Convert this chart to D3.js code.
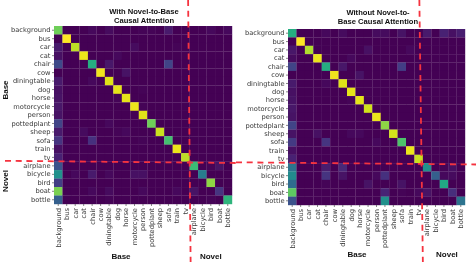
<!DOCTYPE html>
<html>
<head>
<meta charset="utf-8">
<script src="https://cdn.jsdelivr.net/npm/d3@7"></script>
<style>
    html, body { margin: 0; padding: 0; background: #fff; overflow: hidden; }
    svg { display: block; filter: blur(0.35px); }
    .tick text { font-family: "DejaVu Sans", sans-serif; font-size: 6.7px; fill: #3a3a3a; }
    .tick line { stroke: #333; stroke-width: 0.6; }
    .domain { display: none; }
    .head { font-family: "Liberation Sans", Arial, sans-serif; font-weight: bold; font-size: 7.6px; fill: #111; text-anchor: middle; }
    .side { font-family: "Liberation Sans", Arial, sans-serif; font-weight: bold; font-size: 8px; fill: #111; text-anchor: middle; }
    .divider { stroke: #f5333f; stroke-width: 1.8; stroke-dasharray: 6 4.7; }
</style>
</head>
<body>
<div id="chart"></div>
<script>
var classes = ["background", "bus", "car", "cat", "chair", "cow", "diningtable", "dog", "horse",
    "motorcycle", "person", "pottedplant", "sheep", "sofa", "train", "tv",
    "airplane", "bicycle", "bird", "boat", "bottle"];

// percent of the colour range
var withRows = [
    [78,0,0,0,2,0,3,0,0,0,1,1,0,7,0,0,0,0,2,0,2],
    [0,100,0,0,0,0,0,0,0,0,0,0,0,0,0,0,0,0,0,0,0],
    [7,0,90,0,0,0,0,0,0,3,0,0,0,0,1,0,0,0,0,0,0],
    [4,0,0,97,0,0,0,2,0,0,0,0,0,0,0,0,0,0,0,0,0],
    [22,0,0,0,62,0,6,0,0,0,0,0,0,20,0,0,0,0,0,0,0],
    [0,0,0,0,0,98,0,0,5,0,0,0,0,0,0,0,0,0,0,0,0],
    [7,0,0,0,2,0,95,0,0,0,0,0,0,0,0,0,0,0,0,0,0],
    [4,0,0,0,0,0,0,96,0,0,1,0,0,0,0,0,0,0,0,0,0],
    [5,0,0,0,0,0,0,1,96,0,0,0,0,0,0,0,0,0,0,0,0],
    [6,0,0,0,0,0,0,0,0,97,1,0,0,0,0,0,0,0,0,0,0],
    [5,0,0,0,0,0,0,0,0,0,95,0,0,0,0,0,0,0,0,0,0],
    [20,0,0,0,0,0,2,0,0,0,0,78,0,0,0,0,0,0,0,0,0],
    [7,0,0,3,0,0,0,1,2,0,0,0,92,0,0,0,0,0,0,0,0],
    [15,0,0,0,14,0,0,0,0,0,1,0,0,70,0,0,0,0,0,0,0],
    [4,0,0,0,0,0,0,0,0,0,0,0,0,0,97,0,0,0,0,0,0],
    [9,0,0,0,0,0,0,0,0,0,0,0,0,0,0,90,0,0,0,0,0],
    [25,0,0,0,0,0,0,0,0,0,0,0,0,0,0,0,68,0,1,5,0],
    [50,0,2,0,7,0,2,0,0,4,4,0,0,0,0,0,0,42,0,0,0],
    [18,0,0,0,0,0,0,0,0,0,0,0,0,0,0,0,0,0,83,0,0],
    [80,0,0,0,2,0,3,0,0,0,2,0,0,0,2,0,5,0,0,15,0],
    [30,0,0,0,0,0,1,0,0,0,0,0,0,0,0,0,0,0,1,0,65]
];

var withoutRows = [
    [62,0,0,0,2,0,3,0,0,0,3,3,0,5,0,0,7,0,9,4,8],
    [0,100,0,0,0,0,0,0,0,0,0,0,0,0,0,0,0,0,0,0,0],
    [6,0,88,0,0,0,0,0,0,4,0,0,0,0,2,0,0,0,0,0,0],
    [3,0,0,97,0,0,0,2,0,0,0,0,0,0,0,0,0,0,0,0,0],
    [20,0,0,0,62,0,6,0,0,0,0,0,0,18,0,0,0,0,0,0,0],
    [0,0,0,0,0,98,0,0,5,0,0,0,0,0,0,0,0,0,0,0,0],
    [7,0,0,0,2,0,95,0,0,0,0,0,0,0,0,0,0,0,0,0,0],
    [4,0,0,0,0,0,0,96,0,0,0,0,0,0,0,0,0,0,0,0,0],
    [5,0,0,0,0,0,0,1,96,0,0,0,0,0,0,0,0,0,0,0,0],
    [6,0,0,0,0,0,0,0,0,93,0,0,0,0,0,0,0,0,0,0,0],
    [5,0,0,0,0,0,0,0,0,0,97,0,0,0,0,0,0,0,0,0,0],
    [20,0,0,0,0,0,0,0,0,0,0,83,0,0,0,0,0,0,0,0,0],
    [5,0,0,4,0,0,0,2,2,0,0,0,93,0,0,0,0,0,0,0,0],
    [17,0,0,0,15,0,0,0,0,0,2,0,0,72,0,0,0,0,0,0,0],
    [4,0,0,0,0,0,0,0,0,0,0,0,0,0,97,0,0,0,0,0,0],
    [9,0,0,0,0,0,0,0,0,0,0,0,0,0,0,92,0,0,0,0,0],
    [38,0,0,0,8,0,11,0,0,0,0,0,0,0,0,0,50,0,1,4,0],
    [48,0,0,0,15,0,5,0,0,0,2,14,0,0,0,0,0,30,2,3,0],
    [35,0,0,0,1,0,0,0,0,5,0,0,0,5,0,0,0,0,60,0,0],
    [75,0,0,0,0,0,0,0,0,0,0,10,0,1,0,2,5,0,0,13,0],
    [25,0,0,0,0,0,0,0,0,0,0,50,0,0,0,0,0,0,0,0,38]
];

var withTitle = ["With Novel-to-Base", "Causal Attention"];
var withoutTitle = ["Without Novel-to-", "Base Causal Attention"];
var groupNames = ["Base", "Novel"];

var width = 476, height = 262;

var svg = d3.select("#chart").append("svg")
    .attr("width", width)
    .attr("height", height);

var colorScale = d3.scaleSequential(d3.interpolateViridis).domain([0, 100]);

function drawMatrix(rows, box, title) {
    var x = d3.scaleBand().domain(classes).range([box.left, box.right]);
    var y = d3.scaleBand().domain(classes).range([box.top, box.bottom]);

    var g = svg.append("g");

    rows.forEach(function(row, i) {
        g.selectAll("rect.r" + i)
            .data(row)
            .enter().append("rect")
            .attr("class", "r" + i)
            .attr("x", function(d, j) { return x(classes[j]); })
            .attr("y", y(classes[i]))
            .attr("width", x.bandwidth() + 0.2)
            .attr("height", y.bandwidth() + 0.2)
            .style("fill", function(d) { return colorScale(d); });
    });

    g.append("g")
        .attr("transform", "translate(0," + box.bottom + ")")
        .call(d3.axisBottom(x).tickSize(2).tickPadding(1.5))
        .selectAll("text")
        .attr("transform", "rotate(-90)")
        .attr("text-anchor", "end")
        .attr("x", -4)
        .attr("y", 0)
        .attr("dy", "0.35em");

    g.append("g")
        .attr("transform", "translate(" + box.left + ",0)")
        .call(d3.axisLeft(y).tickSize(2).tickPadding(1.5));

    g.selectAll(".head")
        .data(title)
        .enter().append("text")
        .attr("class", "head")
        .attr("x", box.titleX)
        .attr("y", function(d, i) { return box.titleY + i * 9.4; })
        .text(function(d) { return d; });

    // the dashed split between tv and airplane, slightly tilted as in the source figure
    var splitX = x("airplane"), splitY = y("airplane");
    g.append("line").attr("class", "divider")
        .attr("x1", splitX + box.tilt[0]).attr("y1", 0)
        .attr("x2", splitX + box.tilt[1]).attr("y2", height);
    g.append("line").attr("class", "divider")
        .attr("x1", box.hFrom).attr("y1", splitY - 0.8)
        .attr("x2", box.hTo).attr("y2", splitY + 1.4);

    svg.append("text").attr("class", "side")
        .attr("x", d3.mean(x.range()) - 22 + box.baseShift).attr("y", box.groupY)
        .text(groupNames[0]);
    svg.append("text").attr("class", "side")
        .attr("x", x("bird") + x.bandwidth() / 2 + box.novelShift).attr("y", box.groupY)
        .text(groupNames[1]);
}

drawMatrix(withRows, {
    left: 54, right: 232, top: 26, bottom: 204,
    titleX: 144, titleY: 13.5, groupY: 258.5,
    baseShift: 0, novelShift: 0, tilt: [-1.5, 1], hFrom: 5, hTo: 240
}, withTitle);

drawMatrix(withoutRows, {
    left: 288, right: 465, top: 29, bottom: 205,
    titleX: 378, titleY: 15, groupY: 256.5,
    baseShift: 2.5, novelShift: 3, tilt: [-3.5, 0], hFrom: 236, hTo: 476
}, withoutTitle);

// rotated group labels of the left panel
[[groupNames[0], 90], [groupNames[1], 181]].forEach(function(d) {
    svg.append("text").attr("class", "side")
        .attr("transform", "translate(8," + d[1] + ") rotate(-90)")
        .text(d[0]);
});
</script>
</body>
</html>
